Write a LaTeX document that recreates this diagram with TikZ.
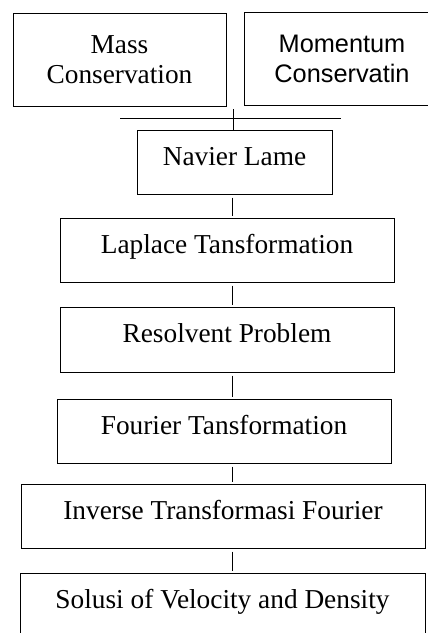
\documentclass[tikz,border=0pt]{standalone}
\usepackage{fontspec}
\setmainfont{Liberation Serif}
\newfontfamily\arialfont{Liberation Sans}

\tikzset{
  stage/.style={draw, line width=0.75pt, inner sep=0pt, align=center,
    text height=0.75em, text depth=0.3em,
    font=\fontsize{20.5}{22.5}\selectfont},
  wide/.style={minimum width=#1*0.75pt},
  tall/.style={minimum height=#1*0.75pt},
  link/.style={line width=0.75pt, shorten <=2.25pt, shorten >=1.5pt},
}

\begin{document}
\begin{tikzpicture}[x=0.75pt,y=-0.75pt]
\clip (0,0) rectangle (428,633);

% conservation laws
\node [stage, wide=213, tall=93, text height=, text depth=] (mass) at (119.5,59.5) {Mass\\Conservation};
\node [stage, wide=196, tall=93, text height=, text depth=, font=\arialfont\fontsize{19}{22.5}\selectfont] (momentum) at (342,58.5) {Momentum\\Conservatin};

% joining bar
\coordinate (barL) at (120,118);
\coordinate (barR) at (341,118);
\coordinate (tick) at (233,109);
\draw [line width=0.75pt] (barL) -- (barR);

% chain of steps
\node [stage, wide=195, tall=64] (nav) at (234.5,162) {Navier Lame};
\node [stage, wide=334, tall=64] (lap) at (227,250) {Laplace Tansformation};
\node [stage, wide=334, tall=65] (res) at (227,339.5) {Resolvent Problem};
\node [stage, wide=334, tall=64] (fou) at (224,431) {Fourier Tansformation};
\node [stage, wide=404, tall=64] (inv) at (223,516) {Inverse Transformasi Fourier};
\node [stage, wide=405, tall=64] (sol) at (222.5,605) {Solusi of Velocity and Density};

% links
\coordinate (spine) at (232,0);
\draw [line width=0.75pt] (tick) -- (tick |- nav.north);
\foreach \a/\b in {nav/lap, lap/res, res/fou, fou/inv, inv/sol}
  \draw [link] (spine |- \a.south) -- (spine |- \b.north);

\end{tikzpicture}
\end{document}
